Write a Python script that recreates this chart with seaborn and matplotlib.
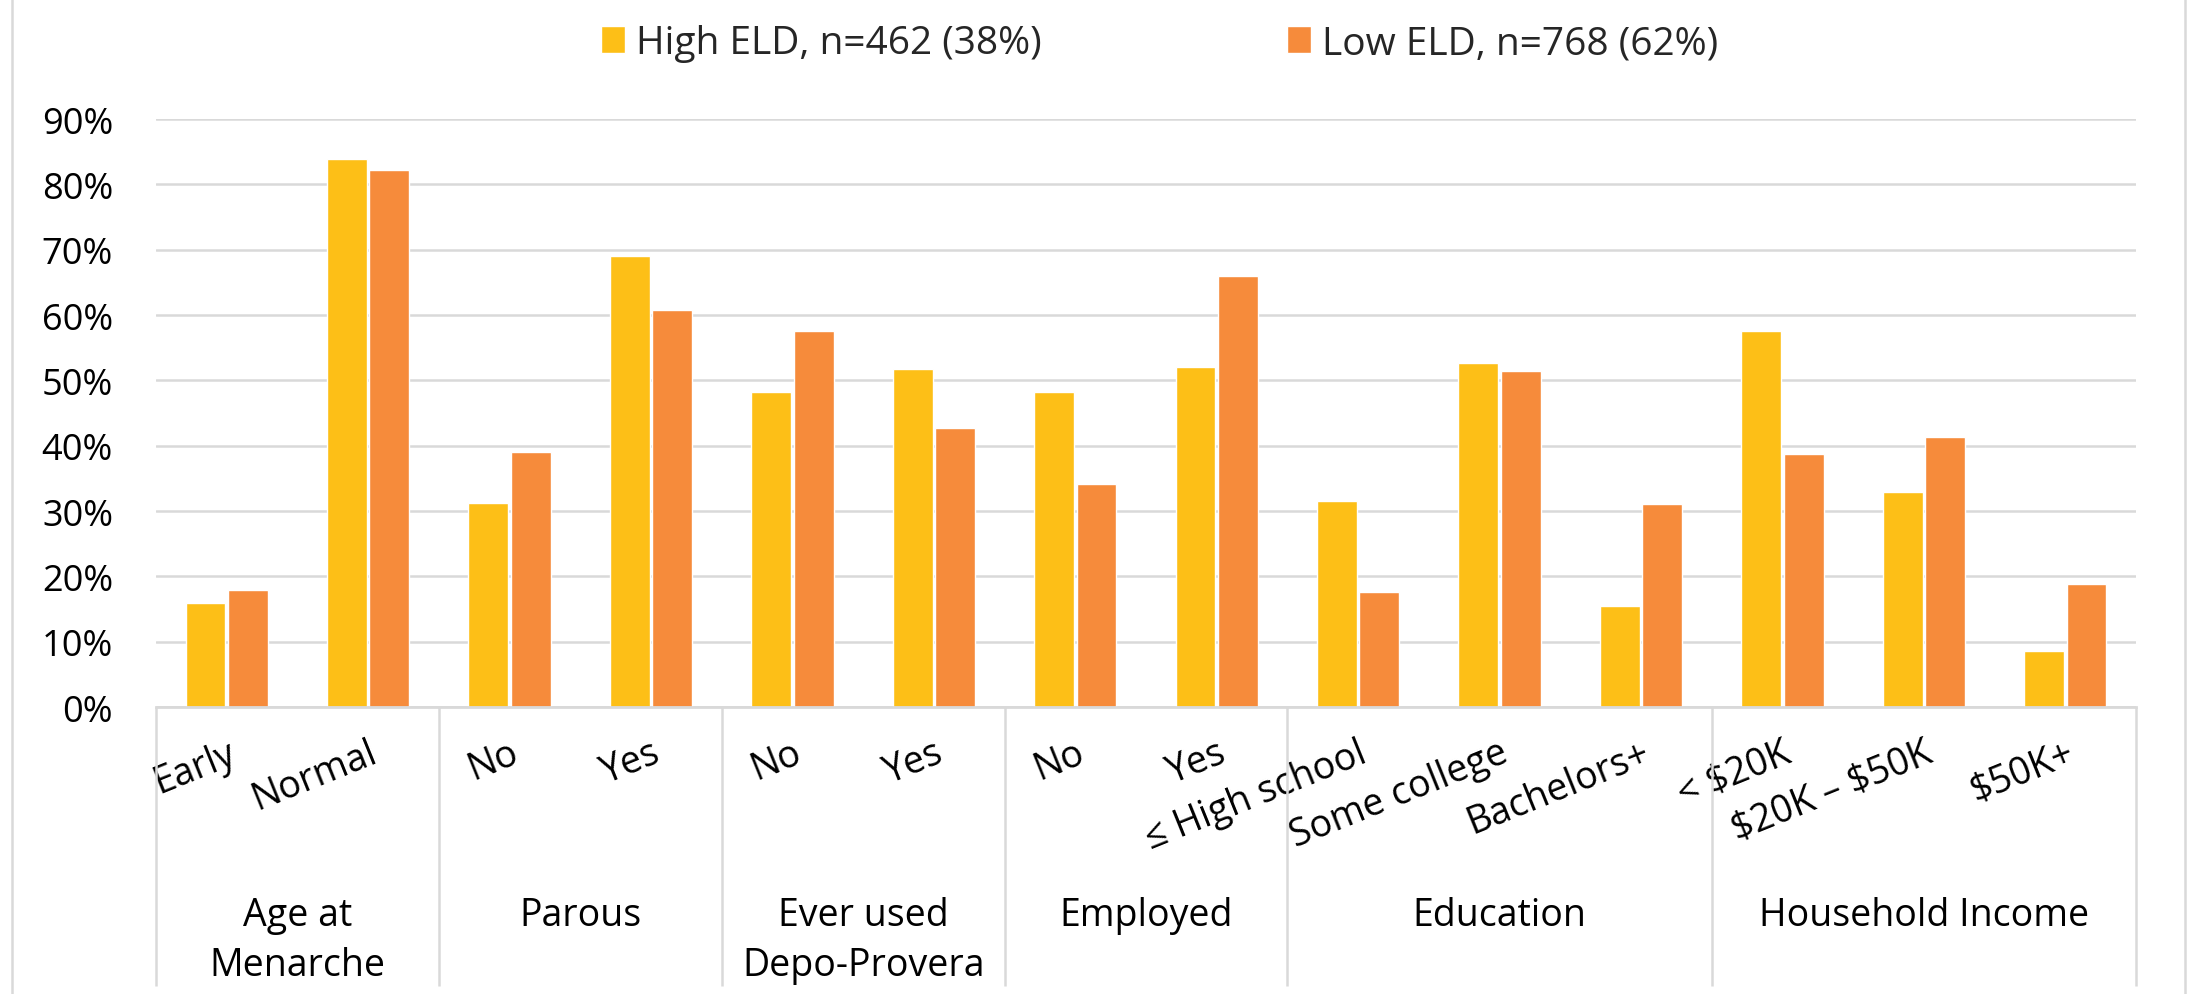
import matplotlib
matplotlib.use("Agg")
import matplotlib.pyplot as plt
from matplotlib.lines import Line2D
from matplotlib.ticker import FuncFormatter
import seaborn as sns
import pandas as pd

# ---------------- data ----------------
groups = ["Age at\nMenarche", "Parous", "Ever used\nDepo-Provera",
          "Employed", "Education", "Household Income"]
categories = ["Early", "Normal", "No", "Yes", "No", "Yes", "No", "Yes",
              "\u2264 High school", "Some college", "Bachelors+",
              "< $20K", "$20K \u2013 $50K", "$50K+"]
category_group = [0, 0, 1, 1, 2, 2, 3, 3, 4, 4, 4, 5, 5, 5]
high_eld = [15.9, 83.9, 31.3, 69.0, 48.2, 51.7, 48.2, 52.0,
            31.5, 52.7, 15.4, 57.5, 32.9, 8.6]
low_eld = [17.9, 82.2, 39.0, 60.7, 57.5, 42.7, 34.2, 66.0,
           17.6, 51.4, 31.0, 38.8, 41.3, 18.9]
series_names = ["High ELD, n=462 (38%)", "Low ELD, n=768 (62%)"]
yticks = [0, 10, 20, 30, 40, 50, 60, 70, 80, 90]

colors = ["#FDBF17", "#F68B3B"]
grid_color = "#D9D9D9"

# ---------------- table ----------------
keys = [f"{i}" for i in range(len(categories))]
rows = []
for k, h, l in zip(keys, high_eld, low_eld):
    rows.append({"key": k, "series": series_names[0], "value": h})
    rows.append({"key": k, "series": series_names[1], "value": l})
df = pd.DataFrame(rows)

sns.set_theme(style="white")
plt.rcParams["font.family"] = ["Open Sans", "DejaVu Sans"]
FS_Y = 26
FS_X = 27
FS_LEG = 28

W, H = 2190, 995
fig = plt.figure(figsize=(W / 100, H / 100), dpi=100)
ax = fig.add_axes([156 / W, 1 - 708 / H, (2136 - 156) / W, (708 - 120) / H])

sns.barplot(data=df, x="key", y="value", hue="series", order=keys,
            hue_order=series_names, palette=colors, saturation=1,
            width=0.6, gap=0.06, ax=ax, legend=True)

ax.set_xlim(-0.5, len(categories) - 0.5)
ax.set_ylim(0, 90)
ax.set_yticks(yticks)
ax.yaxis.set_major_formatter(FuncFormatter(lambda v, p: f"{v:.0f}%"))
ax.set_xlabel("")
ax.set_ylabel("")
ax.grid(axis="y", color=grid_color, linewidth=1.8)
ax.set_axisbelow(True)
for s in ["top", "right", "left"]:
    ax.spines[s].set_visible(False)
ax.spines["bottom"].set_color(grid_color)
ax.spines["bottom"].set_linewidth(2.0)

ax.tick_params(axis="y", length=0, pad=31, labelsize=FS_Y, labelcolor="#000000")
ax.tick_params(axis="x", length=0, pad=19, labelsize=FS_X, labelcolor="#000000")
ax.set_xticks(range(len(categories)))
ax.set_xticklabels(categories, rotation=22, ha="right", va="top",
                   rotation_mode="anchor", parse_math=False)

# group separators and group labels
trans = ax.get_xaxis_transform()
sep_bottom = -(987 - 708) / (708 - 120)
bounds = [-0.5]
for gi in range(len(groups)):
    idx = [i for i, g in enumerate(category_group) if g == gi]
    bounds.append(max(idx) + 0.5)
for b in bounds:
    ax.plot([b, b], [0, sep_bottom], transform=trans, color=grid_color,
            linewidth=1.8, clip_on=False, solid_capstyle="butt")

px = 1.0 / (708 - 120)
for gi, name in enumerate(groups):
    idx = [i for i, g in enumerate(category_group) if g == gi]
    cx = (min(idx) + max(idx)) / 2
    for li, line in enumerate(name.split("\n")):
        ybase = -(926 - 708 + 50 * li) * px
        ax.text(cx, ybase, line, transform=trans, ha="center", va="baseline",
                fontsize=FS_X, color="#000000")

# legend
handles, labels = ax.get_legend_handles_labels()
ax.legend(handles, labels, loc="center", bbox_to_anchor=(1160 / W, 1 - 44 / H),
          bbox_transform=fig.transFigure, ncol=2, frameon=False,
          fontsize=FS_LEG, handlelength=0.6, handleheight=0.7,
          handletextpad=0.3, columnspacing=6.3)

# outer chart border
for x in [12, 2185]:
    fig.add_artist(Line2D([x / W, x / W], [0, 1], color=grid_color,
                          linewidth=1.8))

fig.savefig("out.png", dpi=100, facecolor="white")
